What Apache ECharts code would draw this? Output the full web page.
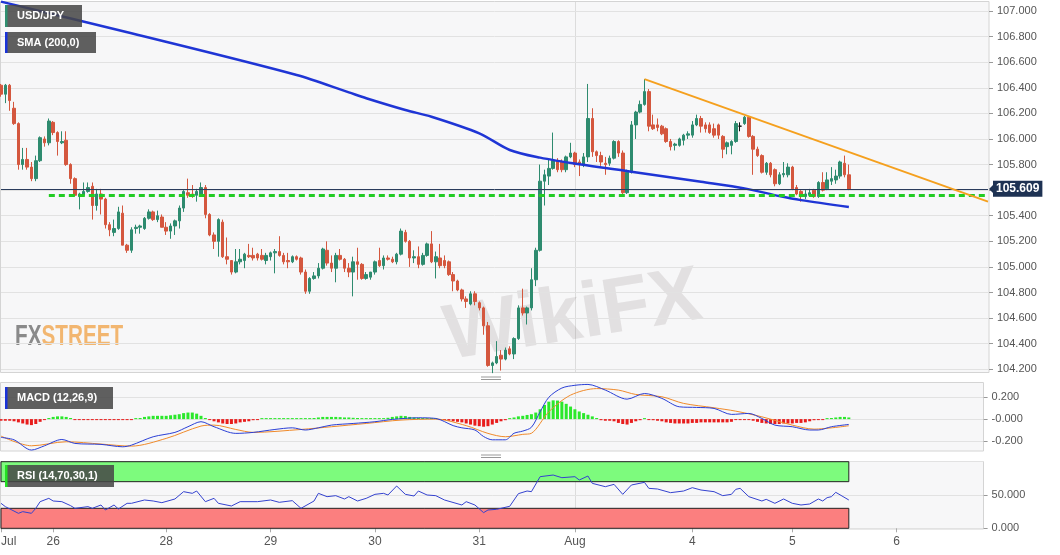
<!DOCTYPE html>
<html>
<head>
<meta charset="utf-8">
<script src="https://cdn.jsdelivr.net/npm/echarts@6.0.0/dist/echarts.min.js"></script>
<style>
html,body{margin:0;padding:0;background:#ffffff;}
#chart{width:1060px;height:555px;}
</style>
</head>
<body>
<div id="chart"></div>
<script>
// ---------- data ----------
const dayLabels = [[0,'Jul'],[12,'26'],[38,'28'],[62,'29'],[86,'30'],[110,'31'],[132,'Aug'],[159,'4'],[182,'5'],[206,'6']];
const mainSlots = 228;
const subSlots = 227;
const weekStartIndex = 132;
const categories = new Array(mainSlots).fill('');
dayLabels.forEach(function (d) { categories[d[0]] = d[1]; });

// hourly candles: [open, high, low, close]
const ohlc = [
[106.42,106.43,106.33,106.35],[106.35,106.43,106.28,106.42],[106.42,106.43,106.22,106.30],[106.24,106.29,106.11,106.12],
[106.12,106.13,105.76,105.80],[105.80,105.93,105.76,105.84],[105.84,105.93,105.76,105.78],[105.78,105.82,105.67,105.69],
[105.69,105.87,105.67,105.83],[105.83,106.02,105.82,106.01],[106.00,106.02,105.94,105.97],[105.97,106.16,105.95,106.14],
[106.13,106.14,106.03,106.05],[106.05,106.06,105.87,105.98],[105.97,106.06,105.96,105.98],[105.99,106.06,105.79,105.80],
[105.80,105.81,105.65,105.69],[105.69,105.70,105.55,105.56],[105.55,105.58,105.45,105.57],[105.56,105.66,105.55,105.59],
[105.59,105.66,105.58,105.62],[105.63,105.66,105.37,105.48],[105.48,105.61,105.44,105.57],[105.57,105.61,105.41,105.53],
[105.53,105.54,105.30,105.33],[105.33,105.35,105.24,105.29],[105.27,105.37,105.24,105.30],[105.30,105.47,105.29,105.43],
[105.42,105.48,105.17,105.17],[105.17,105.18,105.11,105.13],[105.13,105.31,105.11,105.29],[105.30,105.33,105.26,105.31],
[105.31,105.33,105.26,105.32],[105.30,105.39,105.29,105.38],[105.38,105.45,105.37,105.43],[105.43,105.44,105.36,105.37],
[105.37,105.44,105.35,105.40],[105.39,105.41,105.31,105.31],[105.31,105.35,105.25,105.28],[105.28,105.34,105.22,105.32],
[105.32,105.37,105.25,105.36],[105.36,105.48,105.30,105.46],[105.46,105.60,105.43,105.59],[105.58,105.69,105.54,105.56],
[105.57,105.64,105.54,105.56],[105.56,105.61,105.51,105.59],[105.56,105.66,105.55,105.62],[105.62,105.64,105.38,105.41],
[105.41,105.42,105.24,105.25],[105.25,105.27,105.14,105.20],[105.20,105.38,105.08,105.37],[105.35,105.37,105.07,105.08],
[105.08,105.23,105.02,105.06],[105.05,105.05,104.94,104.96],[104.96,105.14,104.95,105.04],[105.04,105.14,105.02,105.06],
[105.05,105.11,104.99,105.10],[105.09,105.18,105.07,105.08],[105.09,105.15,105.05,105.07],[105.10,105.11,105.05,105.07],
[105.09,105.14,105.05,105.06],[105.05,105.11,105.02,105.09],[105.08,105.12,105.05,105.11],[105.11,105.14,104.95,105.12],
[105.12,105.24,105.08,105.09],[105.09,105.11,105.02,105.04],[105.05,105.11,104.99,105.04],[105.04,105.09,105.03,105.08],
[105.08,105.09,105.05,105.06],[105.07,105.08,104.94,104.96],[104.96,104.98,104.79,104.81],[104.81,104.92,104.79,104.91],
[104.91,104.96,104.90,104.93],[104.93,105.03,104.91,104.99],[104.99,105.15,104.98,105.14],[105.13,105.20,105.01,105.03],
[105.03,105.09,104.96,104.99],[104.99,105.11,104.88,105.09],[105.09,105.14,105.05,105.06],[105.06,105.07,104.96,104.99],
[104.99,105.03,104.92,104.96],[104.96,105.08,104.77,105.04],[105.04,105.15,104.90,105.02],[105.02,105.03,104.90,104.91],
[104.91,104.96,104.90,104.94],[104.92,104.96,104.90,104.96],[104.96,105.05,104.94,105.04],[105.05,105.15,105.00,105.01],
[105.01,105.09,104.98,105.07],[105.07,105.09,105.05,105.06],[105.06,105.08,105.03,105.04],[105.04,105.11,105.02,105.10],
[105.10,105.30,105.09,105.28],[105.27,105.29,105.19,105.20],[105.20,105.21,105.00,105.07],[105.07,105.13,105.03,105.08],
[105.08,105.16,104.99,105.02],[105.02,105.11,105.01,105.09],[105.09,105.19,105.08,105.18],[105.18,105.28,105.03,105.04],
[105.04,105.12,104.91,105.08],[105.07,105.18,104.99,105.01],[105.05,105.09,104.99,105.01],[105.04,105.05,104.93,104.94],
[104.94,104.96,104.81,104.89],[104.89,104.90,104.81,104.82],[104.82,104.83,104.73,104.75],[104.75,104.77,104.68,104.73],
[104.71,104.81,104.70,104.79],[104.79,104.81,104.70,104.73],[104.72,104.73,104.66,104.68],[104.68,104.69,104.47,104.54],
[104.54,104.57,104.22,104.23],[104.23,104.26,104.17,104.25],[104.25,104.42,104.24,104.30],[104.31,104.35,104.19,104.28],
[104.28,104.37,104.27,104.35],[104.36,104.38,104.31,104.32],[104.32,104.45,104.28,104.44],[104.44,104.70,104.43,104.68],
[104.68,104.83,104.62,104.64],[104.64,104.69,104.55,104.68],[104.68,104.99,104.66,104.90],[104.90,105.15,104.85,105.13],
[105.13,105.80,105.12,105.67],[105.67,105.76,105.48,105.72],[105.71,105.84,105.64,105.77],[105.77,106.05,105.76,105.83],
[105.83,105.85,105.74,105.76],[105.82,105.84,105.74,105.76],[105.76,105.87,105.74,105.86],[105.86,105.97,105.85,105.89],
[105.89,105.90,105.78,105.80],[105.82,105.84,105.71,105.80],[105.80,105.89,105.78,105.86],[105.86,106.43,105.82,106.16],
[106.16,106.24,105.86,105.90],[105.90,105.91,105.82,105.87],[105.87,105.90,105.79,105.82],[105.81,105.86,105.72,105.80],
[105.81,105.87,105.79,105.85],[105.85,105.99,105.84,105.98],[105.98,105.99,105.86,105.89],[105.89,105.91,105.57,105.58],
[105.58,105.76,105.57,105.74],[105.74,106.14,105.73,106.11],[106.11,106.22,106.00,106.21],[106.21,106.30,106.20,106.27],
[106.27,106.468,106.26,106.37],[106.37,106.39,106.06,106.10],[106.11,106.19,106.07,106.08],[106.11,106.16,106.06,106.09],
[106.10,106.11,106.03,106.04],[106.08,106.09,105.97,105.98],[105.98,106.00,105.91,105.94],[105.95,105.97,105.91,105.96],
[105.95,106.01,105.94,106.00],[105.99,106.04,105.95,106.03],[106.03,106.06,106.00,106.04],[106.03,106.14,106.01,106.11],
[106.11,106.19,106.10,106.16],[106.16,106.18,106.05,106.10],[106.11,106.13,106.05,106.08],[106.11,106.13,106.04,106.05],
[106.08,106.12,106.01,106.03],[106.11,106.12,106.00,106.03],[106.02,106.03,105.85,105.92],[105.94,105.98,105.88,105.97],
[105.95,105.99,105.88,105.98],[105.98,106.14,105.97,106.12],[106.10,106.13,106.06,106.10],[106.12,106.18,106.11,106.17],
[106.17,106.18,106.01,106.02],[106.02,106.03,105.72,105.92],[105.92,105.94,105.86,105.87],[105.87,105.88,105.73,105.74],
[105.74,105.82,105.72,105.81],[105.81,105.82,105.70,105.72],[105.76,105.77,105.63,105.65],[105.65,105.74,105.64,105.72],
[105.72,105.82,105.70,105.73],[105.72,105.81,105.70,105.78],[105.78,105.79,105.60,105.61],[105.62,105.64,105.56,105.57],
[105.59,105.60,105.51,105.55],[105.55,105.60,105.53,105.57],[105.56,105.61,105.55,105.58],[105.60,105.61,105.54,105.55],
[105.55,105.67,105.54,105.66],[105.66,105.74,105.59,105.60],[105.61,105.74,105.60,105.68],[105.67,105.78,105.64,105.69],
[105.68,105.76,105.65,105.71],[105.71,105.83,105.69,105.82],[105.81,105.87,105.70,105.72],[105.72,105.80,105.60,105.609]
];

// SMA(200) read at points along the line: [candle index, value]
const smaPoints = [[0,107.073],[30,106.826],[68,106.500],[80,106.364],[84,106.318],[93,106.226],[99,106.174],
  [110,106.044],[117,105.914],[124,105.854],[133,105.802],[145,105.744],[161,105.665],[171,105.614],
  [179,105.554],[184,105.522],[195,105.468]];

// MACD (12,26,9)
const macdPoints = [[0,-0.168],[3,-0.19],[7,-0.284],[10,-0.245],[14,-0.187],[17,-0.223],[23,-0.232],[28,-0.254],
  [30,-0.239],[35,-0.162],[40,-0.122],[43,-0.07],[46,-0.024],[49,-0.07],[54,-0.131],[58,-0.122],[63,-0.095],
  [67,-0.08],[70,-0.10],[73,-0.08],[76,-0.055],[81,-0.04],[86,-0.024],[90,-0.003],[96,0.012],[100,0.006],
  [104,-0.06],[106,-0.08],[109,-0.10],[111,-0.16],[113,-0.19],[116,-0.19],[118,-0.13],[120,-0.11],[122,-0.075],
  [124,0.067],[126,0.2],[129,0.285],[132,0.31],[135,0.318],[139,0.266],[144,0.183],[148,0.235],[152,0.19],
  [156,0.113],[160,0.107],[164,0.098],[168,0.043],[172,0.052],[175,0.006],[178,-0.055],[182,-0.07],[186,-0.1],
  [188,-0.1],[191,-0.07],[195,-0.049]];
const signalPoints = [[0,-0.156],[7,-0.245],[15,-0.208],[23,-0.229],[30,-0.248],[38,-0.177],[46,-0.064],[49,-0.055],
  [54,-0.095],[58,-0.122],[69,-0.095],[76,-0.07],[84,-0.04],[92,-0.009],[100,0],[107,-0.06],[112,-0.131],
  [116,-0.162],[120,-0.14],[122,-0.13],[126,0.067],[131,0.22],[137,0.28],[142,0.266],[146,0.226],[152,0.205],
  [157,0.144],[164,0.104],[169,0.073],[175,0.021],[182,-0.055],[187,-0.092],[195,-0.061]];
const histogram = [
 -0.015,-0.015,-0.015,-0.02,-0.03,-0.04,-0.05,-0.055,-0.045,-0.025,-0.005,
 0.01,0.02,0.025,0.025,0.02,0.01,
 -0.003,-0.004,-0.004,-0.005,-0.005,-0.007,-0.008,-0.008,-0.008,-0.007,-0.006,-0.005,-0.004,-0.003,
 0.005,0.01,0.02,0.025,0.03,0.03,0.03,0.03,0.035,0.04,0.045,0.055,0.06,0.06,0.05,0.03,0.01,
 -0.005,-0.02,-0.03,-0.04,-0.045,-0.045,-0.04,-0.03,-0.025,-0.02,-0.01,-0.005,
 0.004,0.004,0.004,0.004,0.004,0.004,0.004,0.004,0.004,0.004,0.004,0.004,
 0.01,0.015,0.02,0.02,0.02,0.02,0.018,0.015,0.015,0.012,0.01,0.008,0.006,
 0.005,0.005,0.006,0.008,0.012,
 0.02,0.025,0.03,0.028,0.02,0.015,0.012,0.01,0.006,0.004,0.003,
 -0.004,-0.008,
 -0.015,-0.02,-0.025,-0.03,-0.04,-0.05,-0.06,-0.065,-0.07,-0.065,
 -0.05,-0.035,-0.02,-0.01,
 0.005,0.015,0.025,0.03,0.038,
 0.045,0.06,0.09,0.13,0.16,0.172,0.17,0.16,0.14,0.115,0.09,0.07,0.055,0.04,0.025,0.01,
 -0.01,-0.015,-0.015,-0.02,-0.035,-0.045,-0.05,-0.035,-0.02,-0.01,
 0.005,-0.003,
 -0.01,-0.015,-0.02,-0.03,-0.035,-0.04,-0.04,-0.04,-0.04,-0.035,-0.035,-0.03,-0.03,-0.03,-0.03,-0.03,-0.03,-0.03,-0.025,
 -0.008,-0.008,-0.008,-0.008,
 -0.015,-0.025,-0.035,-0.04,-0.045,-0.045,-0.045,-0.04,-0.04,-0.04,-0.035,-0.035,-0.03,-0.02,-0.01,
 -0.003,-0.003,
 0.005,0.01,0.015,0.02,0.02,0.015
];

// RSI (14,70,30,1)
const rsiPoints = [[0,37.5],[1,32.5],[4,22.5],[5,25],[7,22.5],[8,30],[9,40],[11,45],[12,41],[14,40],[16,34],[17,30],
  [20,32.5],[21,30],[23,35],[24,27.5],[26,35],[27,29],[29,37.5],[30,37.5],[33,42.5],[35,41],[37,38.5],[40,44],
  [42,55],[44,52.5],[45,56],[47,40],[49,45],[50,37.5],[53,33.5],[55,40],[59,40],[62,42.5],[64,39],[67,41.5],
  [69,30],[72,41],[73,52.5],[75,47.5],[77,49],[79,44],[80,47.5],[82,41],[84,45],[86,51],[88,52.5],[89,50],
  [91,63.5],[93,51],[95,48.5],[96,56],[98,50],[100,49],[102,42.5],[106,35],[107,40],[109,35],[111,23.5],
  [112,27.5],[114,28.5],[115,30],[117,33],[119,52],[121,56],[122,55],[124,77.5],[127,80],[129,76],[132,77.5],
  [133,72.5],[135,78.5],[136,67.5],[139,62.5],[141,66],[143,51],[145,65],[148,69],[149,60],[151,59],[154,53.5],
  [157,56],[159,61],[161,57.5],[164,55],[166,49],[168,51],[169,58.5],[170,60],[172,47.5],[175,41],[176,43.5],
  [178,37.5],[180,44],[182,37.5],[184,35],[186,36.5],[188,44],[189,41],[190,46],[191,47.5],[192,54],[195,42.5]];

const lastPrice = 105.609;
const supportLevel = 105.557;
const supportFrom = 11;
const trendFrom = [148, 106.468];
const trendTo = [227, 105.51];
const rsiUpper = 70, rsiLower = 30;
const bandEnd = 195;

// ---------- chart ----------
const UP = '#2e8b6f', DOWN = '#d4573e';
const FONT = "'Liberation Sans', Arial, sans-serif";
const candleData = ohlc.map(function (c) { return [c[0], c[3], c[2], c[1]]; });
const showDay = function (i, v) { return v !== ''; };

const chart = echarts.init(document.getElementById('chart'), null, {renderer: 'canvas'});

const option = {
  animation: false,
  backgroundColor: '#ffffff',
  textStyle: {fontFamily: FONT},
  grid: [
    {left: 1, top: 11, width: 987, height: 358.3, outerBoundsMode: 'none'},
    {left: 1, top: 397.3, width: 982.6, height: 43.6, outerBoundsMode: 'none'},
    {left: 1, top: 461.7, width: 982.6, height: 66.6, outerBoundsMode: 'none'}
  ],
  xAxis: [
    {type: 'category', gridIndex: 0, data: categories, boundaryGap: false,
     axisLine: {show: false}, axisTick: {show: false}, axisLabel: {show: false}, splitLine: {show: false}},
    {type: 'category', gridIndex: 1, data: categories.slice(0, subSlots), boundaryGap: false,
     axisLine: {show: false}, axisTick: {show: false}, axisLabel: {show: false}, splitLine: {show: false}},
    {type: 'category', gridIndex: 2, data: categories.slice(0, subSlots), boundaryGap: false,
     axisLine: {show: false},
     axisTick: {show: true, interval: showDay, length: 4, lineStyle: {color: '#aaaaaa'}},
     axisLabel: {show: true, interval: showDay, color: '#555555', fontSize: 12, margin: 7, alignMinLabel: 'left'},
     splitLine: {show: false}}
  ],
  yAxis: [
    {type: 'value', gridIndex: 0, position: 'right', offset: 1, min: 104.2, max: 107.0, interval: 0.2,
     axisLine: {show: false}, axisTick: {show: true, length: 4, lineStyle: {color: '#999999'}},
     axisLabel: {color: '#555555', fontSize: 11, margin: 8, formatter: function (v) { return v.toFixed(3); }},
     splitLine: {show: true, lineStyle: {color: '#e2e2e2'}}},
    {type: 'value', gridIndex: 1, position: 'right', min: -0.2, max: 0.2, interval: 0.2,
     axisLine: {show: false}, axisTick: {show: true, length: 4, lineStyle: {color: '#999999'}},
     axisLabel: {color: '#555555', fontSize: 11, margin: 8,
       formatter: function (v) { return Math.abs(v) < 1e-9 ? '-0.000' : v.toFixed(3); }},
     splitLine: {show: true, lineStyle: {color: '#e2e2e2'}}},
    {type: 'value', gridIndex: 2, position: 'right', min: 0, max: 100, interval: 50,
     axisLine: {show: false}, axisTick: {show: true, length: 4, lineStyle: {color: '#999999'}},
     axisLabel: {color: '#555555', fontSize: 11, margin: 8, showMaxLabel: false,
       formatter: function (v) { return v.toFixed(3); }},
     splitLine: {show: true, lineStyle: {color: '#e2e2e2'}}}
  ],
  series: [
    {
      name: 'USD/JPY', type: 'candlestick', xAxisIndex: 0, yAxisIndex: 0, data: candleData,
      barWidth: 3, clip: false, z: 2,
      itemStyle: {color: UP, color0: DOWN, borderColor: UP, borderColor0: DOWN, borderColorDoji: '#111111', borderWidth: 1},
      markLine: {
        silent: true, symbol: ['none', 'none'], animation: false,
        label: {show: false},
        data: [
          {yAxis: lastPrice, lineStyle: {color: '#2a3c5c', width: 1, type: 'solid'},
           label: {show: true, position: 'end', distance: 5, formatter: lastPrice.toFixed(3), color: '#ffffff',
                   fontWeight: 'bold', fontSize: 12, backgroundColor: '#1e3253', padding: [2, 3, 2, 3]}},
          [{coord: [supportFrom, supportLevel], lineStyle: {color: '#22cc22', width: 3, type: [6, 4]}, label: {show: false}},
           {coord: [mainSlots - 1, supportLevel]}],
          [{coord: trendFrom, lineStyle: {color: '#f5a01e', width: 2, type: 'solid'}, label: {show: false}},
           {coord: trendTo}]
        ]
      }
    },
    {
      name: 'SMA (200,0)', type: 'line', xAxisIndex: 0, yAxisIndex: 0, data: smaPoints,
      smooth: 0.3, showSymbol: false, clip: false, z: 3, silent: true,
      lineStyle: {color: '#1f35d5', width: 2.5}
    },
    {
      name: 'MACD hist', type: 'bar', xAxisIndex: 1, yAxisIndex: 1, barWidth: 3, barMinHeight: 1, silent: true,
      data: histogram.map(function (v) { return {value: v, itemStyle: {color: v >= 0 ? '#2be82b' : '#e81c1c'}}; })
    },
    {
      name: 'MACD', type: 'line', xAxisIndex: 1, yAxisIndex: 1, data: macdPoints, smooth: 0.3,
      showSymbol: false, clip: false, z: 4, silent: true, lineStyle: {color: '#2a3fd6', width: 1}
    },
    {
      name: 'Signal', type: 'line', xAxisIndex: 1, yAxisIndex: 1, data: signalPoints, smooth: 0.3,
      showSymbol: false, clip: false, z: 3, silent: true, lineStyle: {color: '#f08a2a', width: 1}
    },
    {
      name: 'RSI bands', type: 'line', xAxisIndex: 2, yAxisIndex: 2, data: [], z: 1, silent: true,
      markArea: {
        silent: true,
        data: [
          [{xAxis: 0, yAxis: rsiUpper, itemStyle: {color: '#7dfb7d', borderColor: '#222222', borderWidth: 1}},
           {xAxis: bandEnd, yAxis: 100}],
          [{xAxis: 0, yAxis: 0, itemStyle: {color: '#fb7f7f', borderColor: '#222222', borderWidth: 1}},
           {xAxis: bandEnd, yAxis: rsiLower}]
        ]
      }
    },
    {
      name: 'RSI', type: 'line', xAxisIndex: 2, yAxisIndex: 2, data: rsiPoints, smooth: false,
      showSymbol: false, z: 3, silent: true, lineStyle: {color: '#3442cf', width: 1}
    }
  ]
};
chart.setOption(option);

// ---------- decorations (panels, tags, watermark) ----------
const wx = chart.convertToPixel({xAxisIndex: 0}, weekStartIndex);
const py = chart.convertToPixel({yAxisIndex: 0}, lastPrice);

function panel(x, y, w, h) {
  return {type: 'rect', z: -10, silent: true, shape: {x: x, y: y, width: w, height: h},
          style: {fill: '#f7f7f8', stroke: '#d4d4d4', lineWidth: 1}};
}
function vline(x, y1, y2) {
  return {type: 'line', z: -9, silent: true, shape: {x1: Math.round(x) + 0.5, y1: y1, x2: Math.round(x) + 0.5, y2: y2},
          style: {stroke: '#dcdcdc', lineWidth: 1}};
}
function tag(x, y, w, h, stripe, text) {
  return {type: 'group', x: x, y: y, z: 100, silent: true, children: [
    {type: 'rect', z: 100, shape: {x: 0, y: 0, width: w, height: h}, style: {fill: 'rgba(70,70,70,0.86)'}},
    {type: 'rect', z: 101, shape: {x: 0, y: 0, width: 2.5, height: h}, style: {fill: stripe}},
    {type: 'text', z: 101, style: {x: 12, y: h / 2, text: text, fill: '#ffffff', font: 'bold 11px ' + FONT, verticalAlign: 'middle'}}
  ]};
}
function handle(x, y) {
  return {type: 'group', silent: true, children: [
    {type: 'line', shape: {x1: x, y1: y + 0.5, x2: x + 20, y2: y + 0.5}, style: {stroke: '#999999', lineWidth: 1}},
    {type: 'line', shape: {x1: x, y1: y + 3, x2: x + 20, y2: y + 3}, style: {stroke: '#999999', lineWidth: 1}}
  ]};
}

chart.setOption({
  graphic: [
    panel(0.5, 1.5, 988.5, 371),
    panel(0.5, 382.5, 983, 68.5),
    panel(0.5, 461.5, 983, 67.5),
    vline(wx, 2, 372),
    vline(wx, 383, 450),
    vline(wx, 462, 528),
    {type: 'text', z: -5, silent: true, x: 445, y: 338, rotation: 0.16,
     style: {text: 'WikiFX', fill: 'rgba(120,105,105,0.16)', font: 'bold 78px ' + FONT, verticalAlign: 'middle'}},
    {type: 'text', z: -5, silent: true, x: 15, y: 337, scaleX: 0.69,
     style: {text: 'FX', fill: '#8a8a8a', font: 'bold 30px ' + FONT, verticalAlign: 'middle'}},
    {type: 'text', z: -5, silent: true, x: 41.5, y: 337, scaleX: 0.69,
     style: {text: 'STREET', fill: '#f2b670', font: 'bold 30px ' + FONT, verticalAlign: 'middle'}},
    tag(5, 5, 77, 22, '#2f8f70', 'USD/JPY'),
    tag(5, 32, 91, 21, '#1a33d8', 'SMA (200,0)'),
    tag(5, 387, 108, 22, '#1a33d8', 'MACD (12,26,9)'),
    tag(5, 465, 109, 22, '#22e022', 'RSI (14,70,30,1)'),
    handle(481, 376.5),
    handle(481, 454.5),
    {type: 'polygon', z: 100, silent: true, shape: {points: [[989, py], [994, py - 5], [994, py + 5]]},
     style: {fill: '#1e3253'}}
  ]
});
</script>
</body>
</html>
